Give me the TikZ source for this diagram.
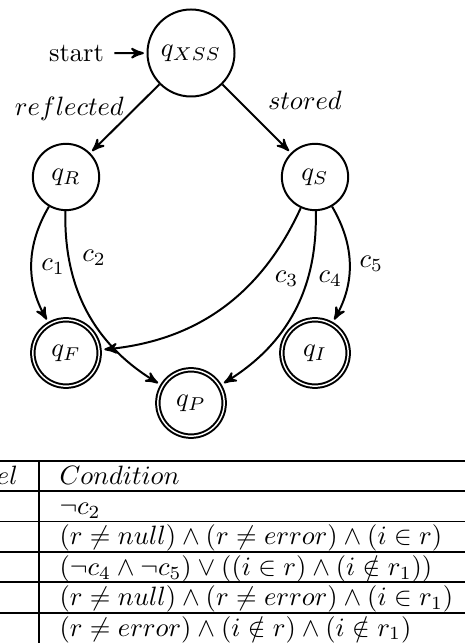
\documentclass[tikz,border=0pt]{standalone}
\usetikzlibrary{arrows}
\begin{document}
\begin{tikzpicture}[x=0.377pt,y=-0.377pt,>=stealth',
  st/.style={circle,draw,line width=0.75pt,minimum size=25pt,inner sep=0pt},
  acc/.style={st,double,double distance=0.55pt,outer sep=1pt},
  tr/.style={->,line width=0.75pt,shorten >=1pt},
  lbl/.style={inner sep=0pt},
  rule/.style={line width=0.65pt}]
\useasboundingbox (0,0) rectangle (465,643);
% states
\node[st,minimum size=32.8pt] (qX) at (191,53) {$q_{XSS}$};
\node[st] (qR) at (66,177) {$q_R$};
\node[st] (qS) at (315,177) {$q_S$};
\node[acc] (qF) at (66,353) {$q_F$};
\node[acc] (qI) at (315,353) {$q_I$};
\node[acc] (qP) at (191,403) {$q_P$};
\node[inner sep=0pt,outer sep=4pt] (start) at (76.5,53.3) {start};
% transitions
\draw[tr] (start) -- (qX);
\draw[tr] (qX) -- node[lbl,anchor=base east,xshift=0pt,yshift=1pt] {$reflected$} (qR);
\draw[tr] (qX) -- node[lbl,anchor=base west,xshift=3.9pt,yshift=3.3pt] {$stored$} (qS);
\draw[tr] (qR) to[bend right=30] node[pos=0.52,auto] {$c_1$} (qF);
\draw[tr] (qR) to[bend right=30] node[pos=0.3,auto] {$c_2$} (qP);
\draw[tr] (qS) to[bend left=30] (qF);
\draw[tr] (qS) to[bend left=30] node[pos=0.32,anchor=east,inner sep=3.2pt] {$c_3$} (qP);
\draw[tr] (qS) to[bend left=30] node[pos=0.63,anchor=east,inner sep=2pt] {$c_4$} node[pos=0.5,anchor=west,inner sep=3.5pt] {$c_5$} (qI);
% table
\foreach \yy in {460.7,491.1,521.5,551.9,582.3,612.7}
  \draw[rule] (0,\yy) -- (465,\yy);
\draw[rule] (38.7,460.7) -- (38.7,643);
\node[lbl,anchor=base east] (lab) at (18.3,484) {$el$};
\node[lbl,anchor=base west] (hd) at (59,484) {$Condition$};
\node[lbl,anchor=base west] (r1) at (59,514.4) {$\neg c_2$};
\node[lbl,anchor=base west] (r2) at (59,544.8) {$(r \neq null) \wedge (r \neq error) \wedge (i \in r)$};
\node[lbl,anchor=base west] (r3) at (59,575.2) {$(\neg c_4 \wedge \neg c_5) \vee ((i \in r) \wedge (i \notin r_1))$};
\node[lbl,anchor=base west] (r4) at (59,605.6) {$(r \neq null) \wedge (r \neq error) \wedge (i \in r_1)$};
\node[lbl,anchor=base west] (r5) at (59,636) {$(r \neq error) \wedge (i \notin r) \wedge (i \notin r_1)$};
\end{tikzpicture}
\end{document}
